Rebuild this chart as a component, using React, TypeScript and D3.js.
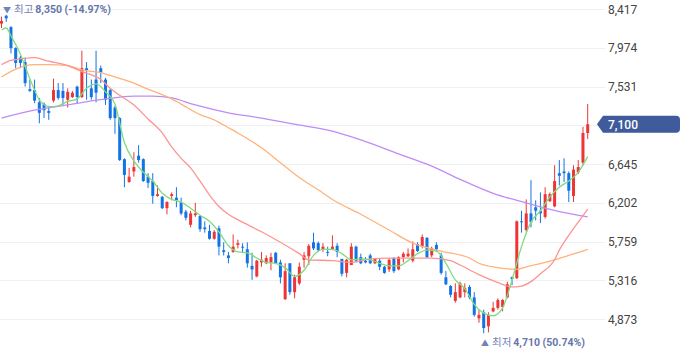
import React from 'react';
import * as d3 from 'd3';

const W = 680;
const H = 358;

// OHLC, oldest to newest (125 sessions)
const opens = [
  8250, 8340, 8210, 7970, 7860, 7810, 7500, 7490, 7350, 7330,
  7250, 7370, 7490, 7480, 7380, 7410, 7530, 7410, 7740, 7510,
  7610, 7740, 7610, 7490, 7290, 7170, 6700, 6440, 6560, 6740,
  6700, 6500, 6450, 6280, 6270, 6140, 6280, 6260, 6210, 6100,
  5950, 6060, 6050, 5920, 5880, 5790, 5910, 5660, 5600, 5640,
  5720, 5700, 5670, 5480, 5360, 5520, 5510, 5520, 5630, 5520,
  5100, 5510, 5180, 5280, 5550, 5590, 5750, 5740, 5670, 5640,
  5670, 5710, 5560, 5400, 5490, 5700, 5580, 5540, 5600, 5510,
  5540, 5470, 5440, 5570, 5440, 5580, 5590, 5540, 5730, 5700,
  5800, 5600, 5720, 5600, 5350, 5250, 5080, 5120, 5180, 5240,
  5120, 4880, 4950, 4790, 4960, 5000, 5010, 5120, 5350, 5340,
  5990, 5890, 6080, 6150, 6110, 6040, 6220, 6160, 6540, 6560,
  6540, 6280, 6550, 6660, 7000,
];
const highs = [
  8330, 8350, 8220, 7980, 7880, 7860, 7610, 7610, 7400, 7350,
  7310, 7620, 7570, 7570, 7510, 7480, 7540, 7940, 7810, 7610,
  7940, 7770, 7630, 7510, 7310, 7180, 6710, 6600, 6780, 6860,
  6710, 6540, 6540, 6400, 6280, 6220, 6320, 6380, 6260, 6120,
  6110, 6200, 6060, 5990, 5950, 5890, 5940, 5750, 5640, 5840,
  5780, 5740, 5750, 5630, 5550, 5640, 5600, 5630, 5640, 5550,
  5510, 5510, 5380, 5520, 5640, 5730, 5860, 5760, 5740, 5700,
  5830, 5740, 5560, 5560, 5740, 5710, 5620, 5580, 5620, 5570,
  5560, 5480, 5570, 5580, 5590, 5640, 5680, 5760, 5750, 5840,
  5810, 5700, 5750, 5630, 5420, 5260, 5280, 5300, 5280, 5260,
  5180, 4980, 4980, 4950, 5070, 5110, 5100, 5300, 5360, 6000,
  6110, 6240, 6460, 6230, 6320, 6380, 6320, 6630, 6690, 6710,
  6560, 6630, 6690, 7070, 7330,
];
const lows = [
  8200, 8270, 7910, 7740, 7740, 7530, 7470, 7340, 7110, 7170,
  7150, 7350, 7380, 7320, 7290, 7400, 7340, 7400, 7380, 7380,
  7350, 7570, 7320, 7150, 6990, 6680, 6380, 6430, 6500, 6660,
  6440, 6370, 6190, 6270, 6130, 6070, 6230, 6150, 6060, 6000,
  5920, 6040, 5870, 5860, 5780, 5780, 5600, 5600, 5510, 5630,
  5680, 5630, 5460, 5320, 5350, 5470, 5500, 5430, 5500, 5280,
  5090, 5150, 5110, 5260, 5460, 5490, 5660, 5640, 5640, 5590,
  5660, 5580, 5360, 5350, 5490, 5520, 5500, 5510, 5500, 5500,
  5430, 5390, 5410, 5400, 5430, 5520, 5580, 5520, 5640, 5680,
  5570, 5580, 5640, 5380, 5260, 5120, 5060, 5110, 5120, 5100,
  4900, 4830, 4710, 4720, 4950, 4980, 4960, 5110, 5260, 5330,
  5860, 5870, 5920, 6000, 5970, 6020, 6210, 6150, 6400, 6440,
  6210, 6210, 6530, 6630, 6930,
];
const closes = [
  8280, 8310, 7970, 7800, 7800, 7570, 7480, 7370, 7230, 7260,
  7230, 7490, 7400, 7400, 7470, 7460, 7410, 7740, 7720, 7410,
  7460, 7690, 7380, 7170, 7170, 6690, 6520, 6500, 6610, 6690,
  6450, 6430, 6280, 6300, 6140, 6210, 6300, 6230, 6080, 6030,
  6080, 6080, 5900, 5900, 5790, 5870, 5700, 5640, 5570, 5700,
  5740, 5690, 5510, 5440, 5540, 5550, 5570, 5580, 5510, 5350,
  5420, 5180, 5350, 5470, 5600, 5710, 5680, 5660, 5700, 5630,
  5700, 5640, 5390, 5550, 5700, 5540, 5510, 5520, 5510, 5560,
  5470, 5400, 5550, 5420, 5580, 5620, 5620, 5670, 5650, 5810,
  5580, 5680, 5670, 5400, 5270, 5150, 5180, 5280, 5230, 5120,
  4920, 4920, 4770, 4920, 5000, 5090, 5090, 5270, 5330, 5990,
  5980, 6080, 5980, 6110, 6080, 6300, 6300, 6450, 6510, 6540,
  6340, 6580, 6610, 7000, 7100,
];

// moving averages: [session index, price]
const ma5 = [
  [0, 8180], [1, 8200], [2, 8110], [4, 7900], [6, 7620], [8, 7380], [10, 7300], [12, 7310],
  [14, 7360], [16, 7390], [18, 7510], [20, 7560], [22, 7470], [24, 7330], [26, 6890],
  [28, 6680], [30, 6550], [32, 6450], [34, 6310], [36, 6240], [38, 6210], [40, 6140],
  [42, 6060], [44, 5990], [46, 5870], [48, 5710], [50, 5640], [52, 5630], [54, 5570],
  [56, 5520], [58, 5510], [60, 5460], [62, 5360], [64, 5430], [66, 5600], [68, 5670],
  [70, 5670], [72, 5620], [74, 5550], [76, 5560], [78, 5550], [80, 5510], [82, 5480],
  [84, 5480], [86, 5540], [88, 5620], [90, 5660], [92, 5650], [94, 5510], [96, 5320],
  [98, 5220], [100, 5040], [102, 4940], [104, 4910], [106, 5000], [108, 5320],
  [110, 5700], [112, 5980], [114, 6110], [116, 6270], [118, 6380], [120, 6450],
  [122, 6550], [124, 6730],
];
const ma20 = [
  [0, 7780], [2, 7830], [7, 7860], [10, 7820], [14, 7770], [17, 7700], [21, 7610],
  [23, 7510], [25, 7430], [28, 7320], [31, 7160], [34, 7000], [36, 6840], [38, 6710],
  [40, 6600], [42, 6450], [44, 6290], [46, 6160], [48, 6070], [51, 5980], [55, 5870],
  [59, 5750], [63, 5620], [65, 5550], [70, 5540], [74, 5520], [78, 5560], [82, 5570],
  [91, 5570], [95, 5540], [97, 5490], [101, 5380], [105, 5290], [108, 5240],
  [110, 5250], [112, 5300], [114, 5390], [117, 5550], [118, 5660], [120, 5830],
  [122, 5980], [124, 6130],
];
const ma60 = [
  [0, 7640], [3, 7730], [7, 7780], [10, 7780], [14, 7770], [17, 7720], [21, 7690],
  [24, 7640], [28, 7570], [31, 7500], [36, 7390], [38, 7330], [42, 7210], [45, 7150],
  [48, 7060], [50, 7000], [55, 6830], [59, 6660], [63, 6490], [67, 6350], [70, 6240],
  [76, 6070], [82, 5890], [87, 5740], [93, 5650], [99, 5570], [101, 5510], [105, 5460],
  [109, 5440], [111, 5470], [115, 5520], [120, 5600], [124, 5670],
];
const ma120 = [
  [0, 7170], [7, 7260], [14, 7320], [21, 7380], [28, 7420], [32, 7420], [36, 7400],
  [41, 7320], [48, 7230], [55, 7170], [62, 7100], [70, 7020], [76, 6920], [84, 6760],
  [91, 6620], [97, 6470], [104, 6310], [111, 6200], [118, 6100], [124, 6040],
];

const yTicks = [4873, 5316, 5759, 6202, 6645, 7088, 7531, 7974, 8417];
const lastPrice = 7100;
const highText = ['최고', '8,350 (-14.97%)'];
const lowText = ['최저', '4,710 (50.74%)'];

const UP = '#ee3535';
const DOWN = '#1273e6';

export default function App() {
  const n = closes.length;
  const x = d3.scaleLinear().domain([0, n - 1]).range([1.5, 587.7]);
  const y = d3.scaleLinear().domain([4873, 8417]).range([319, 9]);
  const fmt = d3.format(',');

  const line = d3
    .line<number[]>()
    .x((d) => x(d[0]))
    .y((d) => y(d[1]))
    .curve(d3.curveMonotoneX);

  const bw = 3;
  const ly = y(lastPrice);

  return (
    <svg
      width={W}
      height={H}
      style={{ position: 'absolute', left: 0, top: 0, background: '#fff' }}
      fontFamily="Roboto, 'Noto Sans CJK KR', sans-serif"
    >
      {/* grid */}
      {yTicks.map((t) => (
        <line key={t} x1={0} x2={605} y1={Math.round(y(t)) + 0.5} y2={Math.round(y(t)) + 0.5} stroke="#eff0f2" />
      ))}
      {yTicks.map((t) => (
        <text key={'l' + t} x={608} y={y(t) + 4.5} fontSize={12} fill="#444">
          {fmt(t)}
        </text>
      ))}

      {/* candles */}
      {closes.map((c, i) => {
        const o = opens[i];
        const col = c >= o ? UP : DOWN;
        const cx = x(i);
        const top = y(Math.max(o, c));
        const h = Math.max(1, Math.abs(y(o) - y(c)));
        return (
          <g key={i}>
            <line x1={cx} x2={cx} y1={y(highs[i])} y2={y(lows[i])} stroke={col} strokeWidth={1} />
            <rect x={cx - bw / 2} y={top} width={bw} height={h} fill={col} />
          </g>
        );
      })}

      {/* moving averages */}
      <path d={line(ma120) || ''} fill="none" stroke="#bf8cf7" strokeWidth={1.3} />
      <path d={line(ma60) || ''} fill="none" stroke="#ffb27a" strokeWidth={1.3} />
      <path d={line(ma20) || ''} fill="none" stroke="#ff9393" strokeWidth={1.3} />
      <path d={line(ma5) || ''} fill="none" stroke="#7fdc7f" strokeWidth={1.3} />

      {/* high / low markers */}
      <text x={3} y={13} fontSize={10.5} fill="#7282b6">
        <tspan fontSize={8}>▼</tspan>
        <tspan dx={3}>{highText[0]}</tspan>
        <tspan dx={2} fontWeight="bold" fill="#6676aa">{highText[1]}</tspan>
      </text>
      <text x={481} y={346} fontSize={10.5} fill="#7282b6">
        <tspan fontSize={8}>▲</tspan>
        <tspan dx={3}>{lowText[0]}</tspan>
        <tspan dx={2} fontWeight="bold" fill="#6676aa">{lowText[1]}</tspan>
      </text>

      {/* last price tag */}
      <path
        d={`M597,${ly} L603,${ly - 8.5} H676 Q680,${ly - 8.5} 680,${ly - 4.5} V${ly + 4.5} Q680,${ly + 8.5} 676,${ly + 8.5} H603 Z`}
        fill="#3f5b9b"
      />
      <text x={608} y={ly + 4.5} fontSize={12} fill="#fff" fontWeight={500}>
        {fmt(lastPrice)}
      </text>
    </svg>
  );
}
